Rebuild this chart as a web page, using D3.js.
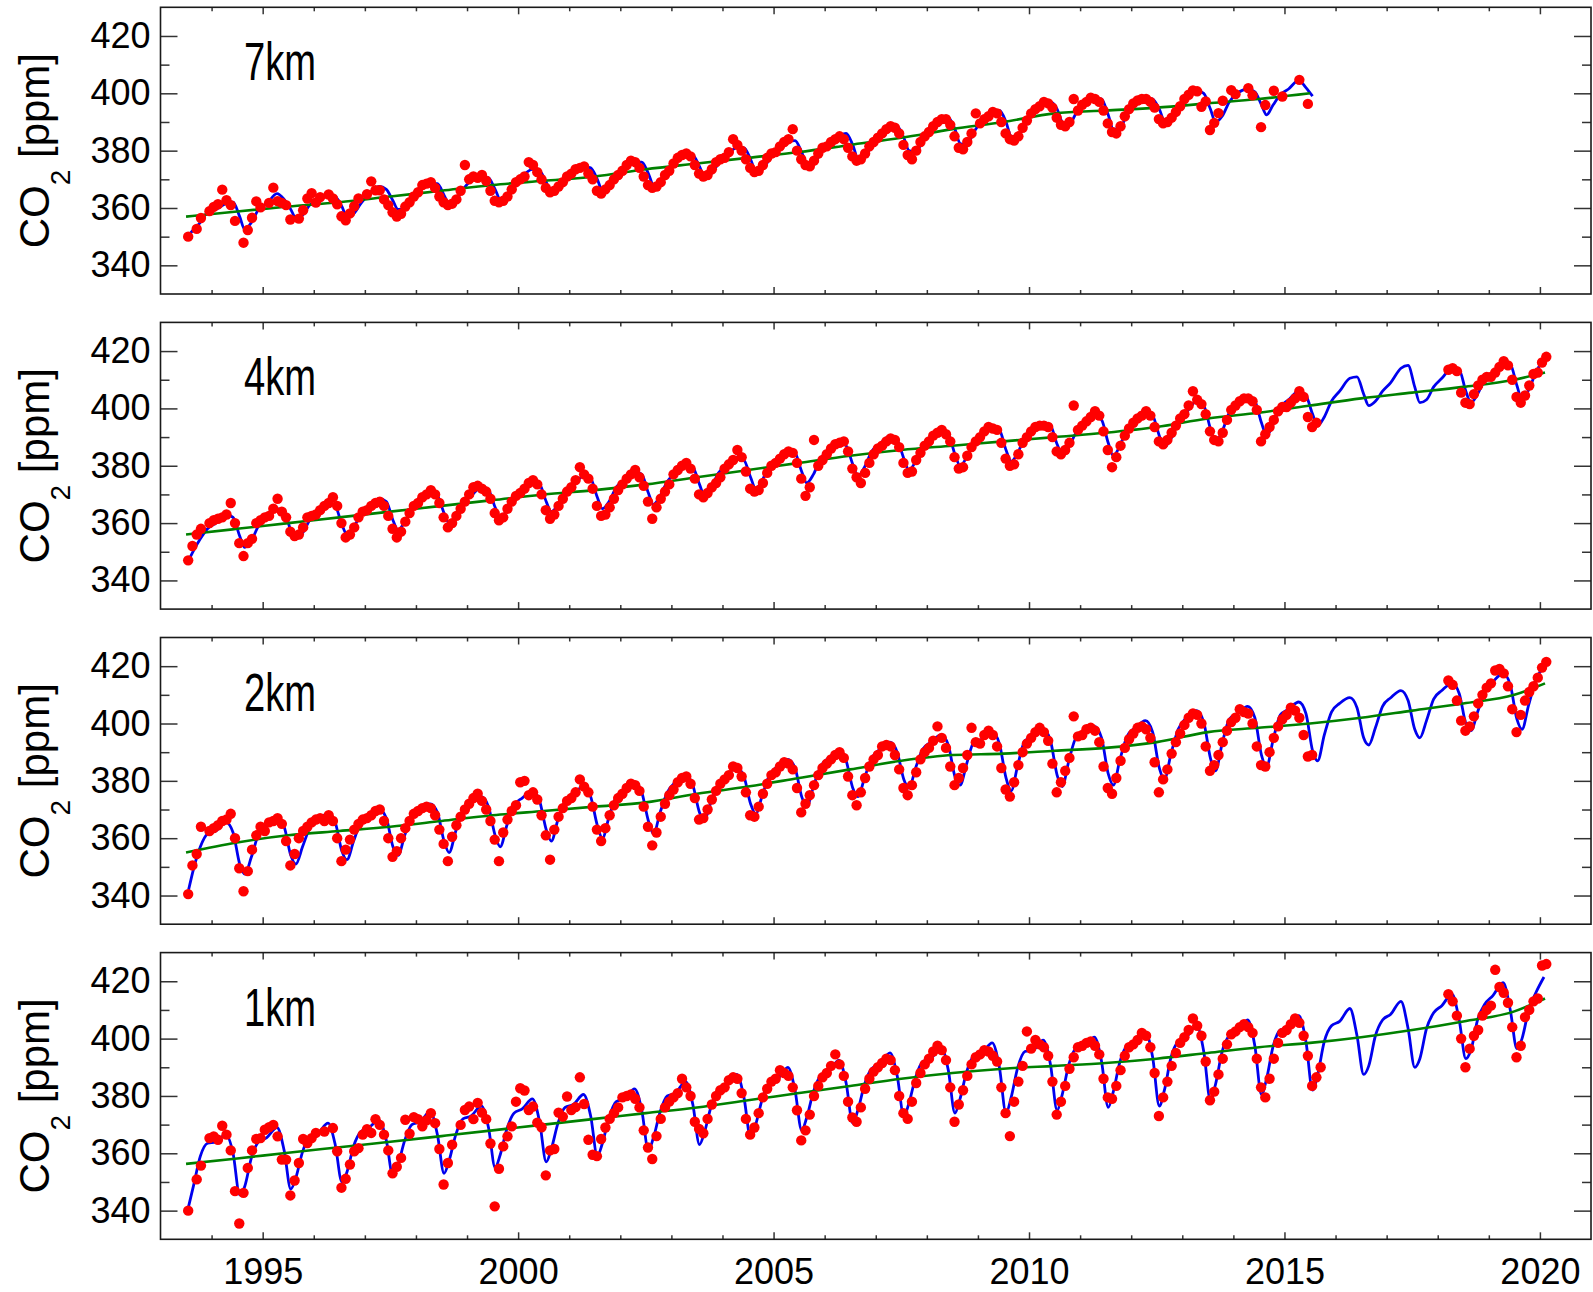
<!DOCTYPE html>
<html>
<head>
<meta charset="utf-8">
<script src="https://cdn.jsdelivr.net/npm/d3@7"></script>
<style>
  html, body { margin: 0; padding: 0; background: #fff; }
  svg { display: block; }
</style>
</head>
<body>
<svg id="chart" width="1593" height="1292"></svg>
<script>
const _ = null;

// Panel labels (flight altitude), top to bottom
const altitudes = ["7km", "4km", "2km", "1km"];

// Axis ticks
const xTickYears = [1995, 2000, 2005, 2010, 2015, 2020];
const yTickValues = [340, 360, 380, 400, 420];
const yMinorValues = [350, 370, 390, 410];

// Phase within the year of each value in the fitted-curve rows
const fitPhase = [0.08, 0.28, 0.42, 0.55, 0.65, 0.78, 0.92];

// Observations: [year, Jan..Dec] in ppm (null = no flight)
const obs7km = [
  [1993,_,_,_,_,_,_,350,_,352.7,356.5,_,358.9],
  [1994,360.4,361.3,366.4,362.7,361,355.5,_,347.9,352.3,356.6,362.3,360.2],
  [1995,_,361.8,367.1,362.4,361.8,361,356,_,356.3,359.2,363.3,365.2],
  [1996,361.9,363.8,_,364.7,363.3,361.3,357.1,355.7,358.1,360.6,363.3,_],
  [1997,364.8,369.3,366.2,366.2,363,361,358.5,357,358,360.5,362,364],
  [1998,365.5,368,368.5,369,367,364,362,361,361.5,363,366,375],
  [1999,370,371,370.5,371.5,369.5,366,362.5,362,362.5,364,366.5,369],
  [2000,370,371,376,375,372.5,370,367,365.5,366,367.5,369,371],
  [2001,372,373.5,374,374.5,372,370,366,365,366.5,368,370,371.5],
  [2002,373,375,376.5,376,374,371,368,367,367.5,369,371.5,373],
  [2003,375.5,377.5,378.5,379,378,375,372,371,371.5,373.5,376,377],
  [2004,377.5,379.5,384,382,380,377,374,372.5,373,375,377.5,379],
  [2005,379.5,381.5,383,384,387.5,380,377,375,374.5,376.5,379,381],
  [2006,381.5,383,384,385,384,381,378,376.5,377,379,381.5,383],
  [2007,384.5,386,387.5,388.5,388,386,382,378.5,377,380,383,385],
  [2008,386.5,388.5,390,391,391,389,385,381,380.5,383,386,393],
  [2009,389.5,391,392,393.5,393,390,386,384,383.5,385,388,390.5],
  [2010,393,394.5,395.5,397,396.5,395,391.5,389,388.5,390,398,394],
  [2011,396,397,398.5,398,397,394,389.5,386.5,386,388.5,392,394.5],
  [2012,396.5,397.5,398,398,397,395,391,389.5,390,391.5,393.5,395.5],
  [2013,398,399.5,401,400.7,395.3,397.2,387.2,389.7,393.1,397.4,_,401.1],
  [2014,399.7,_,_,401.8,399.3,_,388.2,395.9,_,400.9,_,398.9],
  [2015,_,_,_,404.7,_,396.3]
];
const obs4km = [
  [1993,_,_,_,_,_,_,347,352,356,358,_,360],
  [1994,361,361.5,362,363,367,360,353,348.5,353,354.5,360,361],
  [1995,362,362.5,365,368.5,364,362,357,355.5,356,358.5,362,362.5],
  [1996,363,364.5,366,367,369,366,360,355,356,358.5,362,364],
  [1997,364.5,366,367,367.5,366,362.5,358,355,357,360.5,363.5,366],
  [1998,367,369,370,371.5,370,367,362,358.5,360,362.5,365,367.5],
  [1999,370,372.5,373,372,371,368.5,363.5,361,362,365,367.5,369.5],
  [2000,370.5,372,374,375,373.5,370,364.5,361.5,363,366,368.5,371],
  [2001,372.5,375,379.5,377,375.5,372,366,362.5,363,365.5,368.5,371.5],
  [2002,373.5,375.5,377,378.5,376,373,367.5,361.5,365.5,368.5,371,373.5],
  [2003,377,378.5,380,381,379,375.5,370,369,370.5,372.5,374,376],
  [2004,379,380.5,382,385.5,383,378,372,371,371.5,374,377.5,380],
  [2005,381,382.5,384,385,384.5,381,375.5,369.5,372.5,389,380,382],
  [2006,384,386,387.5,388,388.5,385,379,376,374,377.5,381,384],
  [2007,386,387,388.5,389.5,389,386.5,381,377.5,378,382,384.5,387],
  [2008,388.5,390.5,391.5,392.5,391,388.5,383,379,379.5,383.5,386.5,388.5],
  [2009,390,392,393.5,393,392.5,388,382.5,380,380.5,384,388,390],
  [2010,392,393.5,394,394,393.5,390,385,384,385.5,388,401,392.5],
  [2011,394,395.5,397,399,397.5,392,385.5,379.5,383,387,390.5,393],
  [2012,395,396.5,397.5,399,397.5,393.5,388.5,387.5,389,391.5,394,396.5],
  [2013,398,401,406,403,401.5,398,392,389,388.5,391.5,396,399.5],
  [2014,401,402.5,403.5,403.5,402.5,399.5,388.5,391,393.5,396,399,400.5],
  [2015,400.5,402,403.5,406,404,397,393.5,395],
  [2018,_,_,413.5,414,413,405.5,402,401.5,405,408,410,411],
  [2019,411,412.5,414.5,416.5,415,410,404,402,404.5,408,412,412.5],
  [2020,416,418]
];
const obs2km = [
  [1993,_,_,_,_,_,_,340.5,350.5,354.5,364,_,362.5],
  [1994,363.5,364.5,366,366.5,368.5,360,349.5,341.5,348.5,356,361,364],
  [1995,362.5,365.5,366,367,365,359,350.5,354.5,360,362.5,364,365.5],
  [1996,366.5,367,366,368,366,360,352,356,359.5,363,365,366.5],
  [1997,367,368,369.5,370,366,360,353.5,355.5,360,363.5,366,368.5],
  [1998,369.5,370.5,371,370.5,368,363,358,352,360.5,364.5,367.5,370],
  [1999,372,374,375.5,373,370,366,359.5,352,362,366.5,369.5,371.5],
  [2000,379.5,380,375,376,373.5,368,361,352.5,363,367.5,370.5,373],
  [2001,374,376,380.5,378,376,371,363,359,363.5,368,371.5,374],
  [2002,375.5,377.5,379,378.5,376.5,371,364,357.5,362,367.5,372,375],
  [2003,377,379.5,381,381.5,379,374,366.5,367,370,373.5,376.5,379],
  [2004,380.5,382,385,384.5,381.5,376,368,367.5,371,375.5,379,382],
  [2005,383,385,386.5,386,384,377.5,369,372,375,378.5,382,384.5],
  [2006,386,387.5,389,390,388,381.5,375,371.5,376,381,385,387.5],
  [2007,389,392,392.5,392,389,384,377.5,375,378.5,383,387.5,390],
  [2008,391.5,394,399,395,391.5,385,378.5,381,384.5,389,398.5,393.5],
  [2009,393,396,397.5,396,392,384.5,377,374.5,379.5,385.5,390,393],
  [2010,395,397,398.5,397,394,386,376,379.5,383.5,388,402.5,395.5],
  [2011,396,398,398.5,397.5,393.5,385,377.5,375.5,381,387,391.5,394.5],
  [2012,396.5,398.5,399,398,395,386.5,376,380.5,384,389.5,393.5,396.5],
  [2013,399.5,402,403.5,403,400,392,383.5,385.5,389,393.5,397.5,400.5],
  [2014,402,405,404,403.5,400,392,385.5,385,390,395,399,401.5],
  [2015,403,405.5,404.5,402,396,388.5,389],
  [2018,_,_,415,413.5,408,401,397.5,399,402.5,407,410,412.5],
  [2019,414,418.5,419,417.5,413,405,397,403,408,411,413,416],
  [2020,419.5,421.5]
];
const obs1km = [
  [1993,_,_,_,_,_,_,340,_,350.9,355.7,_,365.3],
  [1994,365.9,364.7,369.6,366.5,361,346.8,335.5,346.2,354.9,361,365,365.3],
  [1995,368.2,369.1,369.9,365.9,357.8,357.8,345.3,350.5,356.6,365,363.6,365.3],
  [1996,367.1,_,367.6,_,368.8,360.7,348,351.1,356.1,360.7,361.8,366.5],
  [1997,368.4,367.1,371.9,369.9,366.5,361,353,355.3,358.4,371.7,366.8,372.6],
  [1998,371.9,369.4,371.5,374,370.5,361.5,349.1,356.6,363,_,369.9,375.1],
  [1999,376.3,371.9,377.6,374.2,371.9,363.4,341.5,354.6,362.4,365.9,369.4,378],
  [2000,382.7,381.9,375.1,376.3,370.7,369.1,352.3,361,361.5,374.2,372.8,379.8],
  [2001,375.1,376.1,386.5,377.2,364.7,359.5,359,365,369,372,374,376],
  [2002,379.5,380,380.5,379,376,368,362,358,366,372,376,378],
  [2003,379.5,381,386,383,380,371,368.5,367,372,377,380,382],
  [2004,383,385.5,386.5,386,381,372,366.5,369,374,379.5,382.5,385],
  [2005,386,389,388,387,383,375,364.5,368,373.5,380,383.5,386.5],
  [2006,388,390.5,394.5,391,387,378,372.5,371,376,382.5,386,388.5],
  [2007,390,391.5,393,392.5,389,380,374,372,378,384.5,388,391],
  [2008,393,395.5,397.5,396,392.5,383,371,377,382,387,391,393.5],
  [2009,394.5,396,395.5,394,392,383,374,366,378,385,390.5,402.5],
  [2010,396.5,399.5,398,397,394,385,373.5,378,383.5,389.5,393.5,397],
  [2011,397.5,398.5,399,397.5,394.5,386,379.5,379,383.5,389,394,397],
  [2012,398,399.5,402,401,397,388,373,379.5,385,390.5,395,398.5],
  [2013,400.5,403,407,404.5,401,392,378.5,381.5,387.5,393,398,401.5],
  [2014,402.5,404,405,404,402,393,383,379.5,386,393,398.5,402],
  [2015,403,405,407,405.5,401,394,383.5,386.5,390],
  [2018,_,_,415.5,413,408,400,390,396.5,401,403,408,410],
  [2019,411.5,424,418,416,412.5,404,393.5,397.5,407.5,410,413,414],
  [2020,425.5,426]
];

// Fitted curve (trend + seasonal harmonics): [year, values at fitPhase]
const fit7km = [
  [1993,_,_,_,350.5,352.5,355,358.5],
  [1994,359.5,361.5,362,357,352.5,355,359.5],
  [1995,361.5,365,363,359.5,356.5,357.5,361],
  [1996,362.5,364.5,364,360.5,357,358,361.5],
  [1997,365,367.5,366.5,362.5,359.5,360,363.5],
  [1998,366.5,368.5,368.5,364.5,361.5,362.5,366.5],
  [1999,369.5,371,370.5,366.5,363,364,367.5],
  [2000,371,373.5,373,369,365.5,366.5,369.5],
  [2001,372.5,374.5,374,370,366,367.5,370.5],
  [2002,374,376,376,372,368,369.5,373],
  [2003,376.5,379,378.5,374.5,371,372,375.5],
  [2004,378.5,381,381,377,373,373.5,377],
  [2005,380.5,383,383.5,379.5,375.5,375.5,379],
  [2006,382.5,385,386,382,377.5,378,381.5],
  [2007,385,388,388.5,384.5,380,379.5,383.5],
  [2008,388,391,391.5,387.5,382.5,382,386.5],
  [2009,390.5,393.5,394,390,385,385,389.5],
  [2010,394,396.5,397,394.5,390,389,393],
  [2011,396.5,398.5,398,392.5,387.5,388,392.5],
  [2012,396.5,398.5,398,394.5,390.5,391,394.5],
  [2013,398.5,401,400,394.5,390,392,397],
  [2014,400,401.5,400.5,396,392.5,396,399.5],
  [2015,401.5,404.5,402,399]
];
const fit4km = [
  [1993,_,_,_,347,350.5,354.5,358],
  [1994,360,363,362,355.5,351.5,354,359],
  [1995,361.5,365,364,357.5,354.5,356.5,361],
  [1996,363.5,367,366,359.5,356,358.5,363],
  [1997,365.5,368.5,367.5,361,357.5,360.5,365],
  [1998,367.5,370.5,369.5,363.5,360,362.5,367.5],
  [1999,369.5,372.5,371.5,365.5,362,364.5,369.5],
  [2000,371.5,374.5,373.5,367.5,364,366.5,371],
  [2001,373,376.5,375.5,369,365,367.5,372.5],
  [2002,375,378,377,370.5,366.5,369.5,374.5],
  [2003,377.5,380.5,379.5,373.5,369.5,372.5,377.5],
  [2004,380,383,382,376,372,375,380],
  [2005,382.5,385.5,384.5,378,374,377,382.5],
  [2006,385.5,388.5,387,380.5,376.5,379.5,385],
  [2007,387.5,390.5,389,382.5,378.5,381.5,387],
  [2008,389,392,391,384,380,383,388.5],
  [2009,390.5,393.5,392.5,385.5,381.5,384.5,390],
  [2010,392,395,394,387.5,384,386.5,391.5],
  [2011,394,397.5,396,388,383.5,387,393],
  [2012,395.5,399,397.5,390.5,386.5,389.5,395],
  [2013,398.5,402.5,401,393,388.5,392,398.5],
  [2014,401,404,402.5,395,390.5,394.5,400.5],
  [2015,403,406,404.5,398,394,397,402.5],
  [2016,406,410.5,411,405,401,402.5,406],
  [2017,409,414,415,407.5,402,403,407.5],
  [2018,410.5,414,413.5,406,402,405,410],
  [2019,412.5,416.5,415.5,408,403,406.5,412.5],
  [2020,417.5]
];
const fit2km = [
  [1993,_,_,_,342,349.5,357,361.5],
  [1994,362.5,365.5,362,351,347.5,353.5,361.5],
  [1995,364.5,367,364,354,351,357,363.5],
  [1996,366.5,368.5,365.5,355.5,352.5,359,365.5],
  [1997,368,370,367,357,354,361,367.5],
  [1998,370,372,369,359,355,362.5,369.5],
  [1999,372,374.5,371,361,357,364.5,371.5],
  [2000,374,376.5,373,363,359,366.5,373],
  [2001,375.5,378,374.5,364.5,360,367.5,374.5],
  [2002,377,379.5,376,366,361.5,369,376],
  [2003,379.5,382,378.5,369,366.5,373,379],
  [2004,382,384.5,381.5,372,368.5,375,382],
  [2005,385,387.5,384.5,374.5,371,378,385],
  [2006,388,390.5,387,377.5,374.5,381,388],
  [2007,391,393.5,390,380.5,377.5,384.5,391],
  [2008,393.5,396,392.5,381.5,378.5,386,393.5],
  [2009,394.5,397,393,381,376.5,385.5,394],
  [2010,395.5,398,394,382,378,387,395],
  [2011,396.5,399,395,382.5,378.5,387.5,395.5],
  [2012,398.5,401,397,384.5,380.5,389.5,398],
  [2013,402,404.5,400.5,388,383.5,393,401.5],
  [2014,403.5,406,402,389,385,394.5,403],
  [2015,405,407.5,403.5,390.5,387,396,404],
  [2016,407,409,405.5,395,392.5,398.5,406],
  [2017,409,411.5,408,398,395,401,408.5],
  [2018,411.5,414,410.5,400,397.5,404,411],
  [2019,414.5,417.5,413.5,401.5,398,406.5,415],
  [2020,420]
];
const fit1km = [
  [1993,_,_,_,341.5,349,359,363.5],
  [1994,364,366.5,360,345.5,348.5,358.5,364],
  [1995,365.5,369,361,347.5,351.5,360.5,366],
  [1996,367,370.5,363,350,353.5,362.5,367.5],
  [1997,369,371.5,364.5,352,356,364.5,370],
  [1998,371,374.5,366.5,353,357.5,366.5,372],
  [1999,373,376.5,369,355,359.5,368.5,374],
  [2000,375.5,379,371,357,361.5,370.5,376],
  [2001,377,380.5,373,359,363.5,372.5,378],
  [2002,379,382.5,375,361,365.5,374.5,380],
  [2003,381,385,377,363,367.5,376.5,382],
  [2004,383.5,387.5,379.5,365.5,370,379,384.5],
  [2005,386,390,382,368,372.5,381.5,387],
  [2006,388.5,392.5,384.5,370.5,375,384,389.5],
  [2007,391,395,387,373,377.5,386.5,392],
  [2008,393,397,389,374,379,388.5,394],
  [2009,395,398.5,390,374,379.5,390,395.5],
  [2010,396,399.5,391,375,380.5,391,396.5],
  [2011,397,400.5,392,376,381.5,392,397.5],
  [2012,398.5,402,393.5,376.5,382,393.5,399],
  [2013,400.5,404.5,395.5,378.5,384,395.5,401],
  [2014,402.5,406.5,397.5,380.5,386,397.5,403],
  [2015,404,408,399,382,387.5,399,404.5],
  [2016,406,410.5,401,387.5,390.5,401,406.5],
  [2017,408.5,413,403.5,390,393,403.5,409],
  [2018,411.5,415.5,406.5,393,396,406.5,412],
  [2019,415,419.5,410,396.5,400,410,416],
  [2020,421.5]
];

// Long-term trend: [decimal year, ppm]
const trend7km = [[1993.5,357],[1994.5,358.8],[1995.5,360.5],[1996.5,362],[1997.5,364],[1998.5,366],[1999.5,368],[2000.5,369.5],[2001.5,371],[2002.5,373.5],[2003.5,375.5],[2004.5,377.5],[2005.5,379.5],[2006.5,382],[2007.5,384.5],[2008.5,387.5],[2009.5,390],[2010.5,393],[2011.5,394],[2012.5,395],[2013.5,396.5],[2014.5,398],[2015.5,400]];
const trend4km = [[1993.5,356],[1994.5,358],[1995.5,360],[1996.5,362],[1997.5,364],[1998.5,366],[1999.5,368],[2000.5,370],[2001.5,371.5],[2002.5,373.5],[2003.5,376],[2004.5,378.5],[2005.5,381],[2006.5,383.5],[2007.5,385.5],[2008.5,387],[2009.5,388.5],[2010.5,390],[2011.5,391.5],[2012.5,393.5],[2013.5,396.5],[2014.5,398.5],[2015.5,401],[2016.5,403.5],[2017.5,405.5],[2018.5,407.5],[2019.5,410],[2020.1,412.5]];
const trend2km = [[1993.5,355],[1994.5,358.5],[1995.5,361],[1996.5,362.5],[1997.5,364],[1998.5,366],[1999.5,368],[2000.5,369.5],[2001.5,371],[2002.5,372.5],[2003.5,375.5],[2004.5,378],[2005.5,381],[2006.5,384],[2007.5,387],[2008.5,389],[2009.5,389.5],[2010.5,390.5],[2011.5,391.5],[2012.5,393.5],[2013.5,397],[2014.5,398.5],[2015.5,400],[2016.5,402],[2017.5,404.5],[2018.5,407],[2019.5,410],[2020.1,414]];
const trend1km = [[1993.5,356.3],[1994.5,358.2],[1995.5,360.2],[1996.5,362.1],[1997.5,364],[1998.5,366],[1999.5,368],[2000.5,370],[2001.5,372],[2002.5,374],[2003.5,376],[2004.5,378.5],[2005.5,381],[2006.5,383.5],[2007.5,386],[2008.5,388],[2009.5,389.5],[2010.5,390.5],[2011.5,391.5],[2012.5,393],[2013.5,395],[2014.5,397],[2015.5,398.5],[2016.5,400.5],[2017.5,403],[2018.5,406],[2019.5,409.5],[2020.1,414]];

const panels = [
  { label: altitudes[0], obs: obs7km, fit: fit7km, trend: trend7km },
  { label: altitudes[1], obs: obs4km, fit: fit4km, trend: trend4km },
  { label: altitudes[2], obs: obs2km, fit: fit2km, trend: trend2km },
  { label: altitudes[3], obs: obs1km, fit: fit1km, trend: trend1km }
];

// ---- layout ----
const plotLeft = 160.5, plotRight = 1591;
const panelTop0 = 7.3, panelStep = 315.1, panelH = 286.7;
const FONT = "'Liberation Sans', Arial, Helvetica, sans-serif";

const svg = d3.select("#chart");
svg.append("rect").attr("width", 1593).attr("height", 1292).attr("fill", "#fff");

const x = d3.scaleLinear().domain([1993, 2021]).range([plotLeft, plotRight]);
const minorYears = d3.range(1994, 2021).filter(yr => yr % 5 !== 0);

function obsPoints(rows) {
  return rows.flatMap(r => r.slice(1).map((v, k) => v == null ? null : { t: r[0] + (k + 0.5) / 12, v }))
             .filter(Boolean);
}
function fitPoints(rows) {
  return rows.flatMap(r => r.slice(1).map((v, k) => v == null ? null : { t: r[0] + fitPhase[k], v }))
             .filter(Boolean);
}
function styleTicks(sel) {
  sel.select(".domain").remove();
  sel.selectAll(".tick line").attr("stroke", "#333").attr("stroke-width", 1.5);
}

panels.forEach((p, i) => {
  const top = panelTop0 + i * panelStep;
  const bottom = top + panelH;
  const y = d3.scaleLinear().domain([330, 430]).range([bottom, top]);
  const g = svg.append("g").attr("class", "panel");

  // fitted seasonal curve
  const fitLine = d3.line().x(d => x(d.t)).y(d => y(d.v)).curve(d3.curveMonotoneX);
  g.append("path")
    .datum(fitPoints(p.fit))
    .attr("d", fitLine)
    .attr("fill", "none")
    .attr("stroke", "#0000ee")
    .attr("stroke-width", 2.8);

  // long-term trend
  const trendLine = d3.line().x(d => x(d[0])).y(d => y(d[1])).curve(d3.curveMonotoneX);
  g.append("path")
    .datum(p.trend)
    .attr("d", trendLine)
    .attr("fill", "none")
    .attr("stroke", "#008000")
    .attr("stroke-width", 2.6);

  // observations
  g.append("g").selectAll("circle")
    .data(obsPoints(p.obs))
    .join("circle")
    .attr("cx", d => x(d.t))
    .attr("cy", d => y(d.v))
    .attr("r", 5.2)
    .attr("fill", "#ff0000");

  // y axes (ticks inside, left and right)
  const yl = g.append("g").attr("transform", `translate(${plotLeft},0)`)
    .call(d3.axisLeft(y).tickValues(yTickValues).tickSize(-17).tickPadding(10).tickFormat(d3.format("d")));
  styleTicks(yl);
  yl.selectAll("text").attr("font-family", FONT).attr("font-size", 36).attr("fill", "#000");
  const ylm = g.append("g").attr("transform", `translate(${plotLeft},0)`)
    .call(d3.axisLeft(y).tickValues(yMinorValues).tickSize(-9).tickFormat(""));
  styleTicks(ylm);
  const yr = g.append("g").attr("transform", `translate(${plotRight},0)`)
    .call(d3.axisRight(y).tickValues(yTickValues).tickSize(-17).tickFormat(""));
  styleTicks(yr);
  const yrm = g.append("g").attr("transform", `translate(${plotRight},0)`)
    .call(d3.axisRight(y).tickValues(yMinorValues).tickSize(-9).tickFormat(""));
  styleTicks(yrm);

  // x axes (ticks inside, bottom and top)
  const isLast = i === panels.length - 1;
  const xb = g.append("g").attr("transform", `translate(0,${bottom})`)
    .call(d3.axisBottom(x).tickValues(xTickYears).tickSize(-7)
      .tickFormat(isLast ? d3.format("d") : ""));
  styleTicks(xb);
  if (isLast) {
    xb.selectAll("text")
      .attr("font-family", FONT).attr("font-size", 36).attr("fill", "#000")
      .attr("y", 44.5).attr("dy", 0);
  }
  const xbm = g.append("g").attr("transform", `translate(0,${bottom})`)
    .call(d3.axisBottom(x).tickValues(minorYears).tickSize(-4).tickFormat(""));
  styleTicks(xbm);
  const xt = g.append("g").attr("transform", `translate(0,${top})`)
    .call(d3.axisTop(x).tickValues(xTickYears).tickSize(-7).tickFormat(""));
  styleTicks(xt);
  const xtm = g.append("g").attr("transform", `translate(0,${top})`)
    .call(d3.axisTop(x).tickValues(minorYears).tickSize(-4).tickFormat(""));
  styleTicks(xtm);

  // frame
  g.append("rect")
    .attr("x", plotLeft).attr("y", top)
    .attr("width", plotRight - plotLeft).attr("height", panelH)
    .attr("fill", "none").attr("stroke", "#1a1a1a").attr("stroke-width", 1.6);

  // altitude label (condensed)
  g.append("g")
    .attr("transform", `translate(244,${top + 73}) scale(0.72,1)`)
    .append("text")
    .attr("font-family", FONT).attr("font-size", 53).attr("fill", "#000")
    .text(p.label);

  // y axis title: CO2 [ppm]
  const title = g.append("text")
    .attr("transform", `translate(48.5,${top + panelH / 2}) rotate(-90)`)
    .attr("text-anchor", "middle")
    .attr("font-family", FONT).attr("font-size", 42).attr("fill", "#000");
  title.append("tspan").text("CO");
  title.append("tspan").attr("font-size", 28).attr("dy", 21).text("2");
  title.append("tspan").attr("dy", -21).text(" [ppm]");
});
</script>
</body>
</html>
